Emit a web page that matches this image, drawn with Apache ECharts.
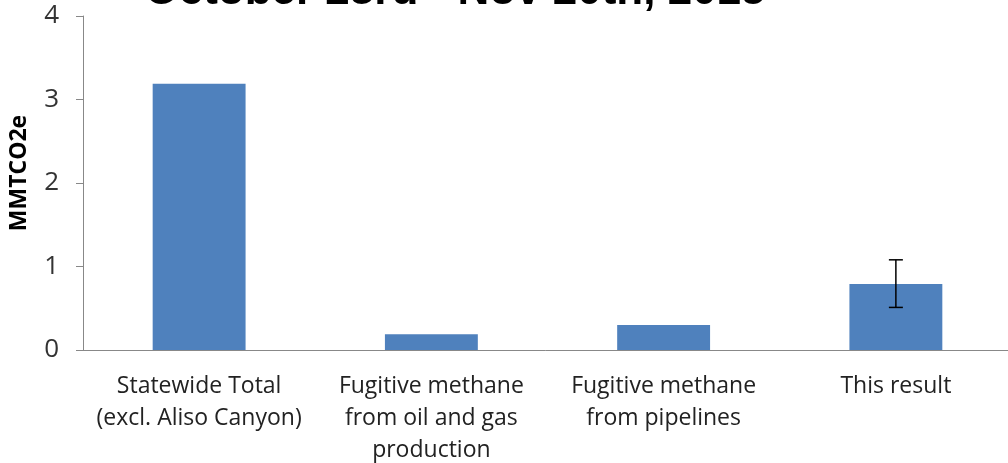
<!DOCTYPE html>
<html>
<head>
<meta charset="utf-8">
<script src="https://cdn.jsdelivr.net/npm/echarts@6/dist/echarts.min.js"></script>
<style>
  html, body { margin: 0; padding: 0; background: #fff; }
  #main { width: 1008px; height: 463px; }
</style>
</head>
<body>
<div id="main"></div>
<script>
var categories = [
    'Statewide Total\n(excl. Aliso Canyon)',
    'Fugitive methane\nfrom oil and gas\nproduction',
    'Fugitive methane\nfrom pipelines',
    'This result'
];
var values = [3.19, 0.19, 0.3, 0.79];
// [category index, low, high]
var errorBars = [[3, 0.51, 1.08]];
var yTicks = [0, 1, 2, 3, 4];

var chart = echarts.init(document.getElementById('main'));

var option = {
    animation: false,
    title: {
        text: 'October 23rd - Nov 20th, 2015',
        left: 450,
        textAlign: 'center',
        top: -35,
        textStyle: {
            fontFamily: 'Liberation Sans',
            fontSize: 44,
            fontWeight: 'bold',
            color: '#000'
        }
    },
    grid: {
        left: 83,
        top: 16,
        width: 929,
        height: 334,
        outerBoundsMode: 'none'
    },
    xAxis: {
        type: 'category',
        data: categories,
        axisLine: { lineStyle: { color: '#888', width: 1 } },
        axisTick: { alignWithLabel: false, length: 7, lineStyle: { color: '#888' } },
        axisLabel: {
            fontFamily: 'Open Sans',
            fontSize: 23,
            color: '#222',
            lineHeight: 32,
            margin: 20,
            interval: 0
        }
    },
    yAxis: {
        type: 'value',
        min: yTicks[0],
        max: yTicks[yTicks.length - 1],
        interval: 1,
        name: 'MMTCO2e',
        nameLocation: 'middle',
        nameGap: 52,
        nameTextStyle: {
            fontFamily: 'Open Sans',
            fontSize: 23,
            fontWeight: 'bold',
            color: '#000',
            padding: [0, 0, 0, 20]
        },
        axisLine: { show: true, lineStyle: { color: '#888' } },
        axisTick: { show: true, length: 7, lineStyle: { color: '#888' } },
        splitLine: { show: false },
        axisLabel: {
            fontFamily: 'Open Sans',
            fontSize: 26,
            color: '#333',
            margin: 24
        }
    },
    series: [
        {
            type: 'bar',
            data: values,
            barWidth: '40%',
            itemStyle: { color: '#4f81bd' }
        },
        {
            type: 'custom',
            data: errorBars,
            z: 10,
            renderItem: function (params, api) {
                var x = api.value(0);
                var top = api.coord([x, api.value(2)]);
                var bot = api.coord([x, api.value(1)]);
                var cap = 7;
                var style = { stroke: '#000', lineWidth: 1.5 };
                return {
                    type: 'group',
                    children: [
                        { type: 'line', shape: { x1: top[0], y1: top[1], x2: bot[0], y2: bot[1] }, style: style },
                        { type: 'line', shape: { x1: top[0] - cap, y1: top[1], x2: top[0] + cap, y2: top[1] }, style: style },
                        { type: 'line', shape: { x1: bot[0] - cap, y1: bot[1], x2: bot[0] + cap, y2: bot[1] }, style: style }
                    ]
                };
            }
        }
    ]
};

chart.setOption(option);
</script>
</body>
</html>
